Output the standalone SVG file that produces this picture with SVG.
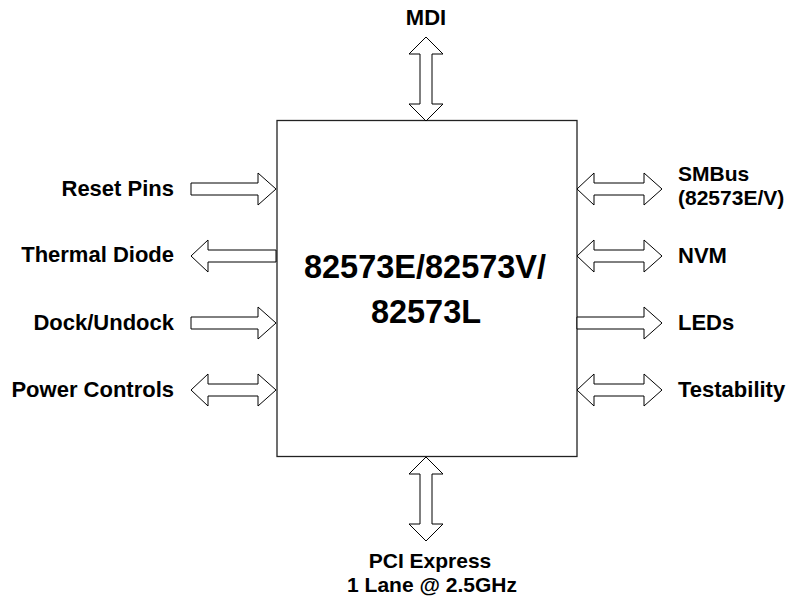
<svg xmlns="http://www.w3.org/2000/svg" width="793" height="600" viewBox="0 0 793 600">
<style>
.lbl{font-family:"Liberation Sans",Arial,sans-serif;font-weight:bold;font-size:22px;fill:#000}
.two{font-size:21px}
.main{font-family:"Liberation Sans",Arial,sans-serif;font-weight:bold;font-size:32.5px;fill:#000}
.arr{fill:#fff;stroke:#000;stroke-width:1;stroke-linejoin:miter}
</style>
<rect width="793" height="600" fill="#fff"/>
<g id="chip">
<rect x="277" y="120.5" width="300" height="336" fill="#fff" stroke="#222" stroke-width="1.3"/>
<text class="main" x="425" y="278" text-anchor="middle">82573E/82573V/</text>
<text class="main" x="426" y="323" text-anchor="middle">82573L</text>
</g>
<g id="connectors">
<polygon class="arr" points="426,37 443,54 432,54 432,104 443,104 426,121 409,104 420,104 420,54 409,54"/>
<polygon class="arr" points="426,457 443,474 432,474 432,524 443,524 426,541 409,524 420,524 420,474 409,474"/>
<polygon class="arr" points="191,183 258,183 258,173 276,189 258,205 258,195 191,195"/>
<polygon class="arr" points="191,256 208,240 208,250 276,250 276,262 208,262 208,272"/>
<polygon class="arr" points="191,317 258,317 258,307 276,323 258,339 258,329 191,329"/>
<polygon class="arr" points="191,390 208,374 208,384 258,384 258,374 276,390 258,406 258,396 208,396 208,406"/>
<polygon class="arr" points="577,189 594,173 594,183 644,183 644,173 662,189 644,205 644,195 594,195 594,205"/>
<polygon class="arr" points="577,256 594,240 594,250 644,250 644,240 662,256 644,272 644,262 594,262 594,272"/>
<polygon class="arr" points="577,317 644,317 644,307 662,323 644,339 644,329 577,329"/>
<polygon class="arr" points="577,390 594,374 594,384 644,384 644,374 662,390 644,406 644,396 594,396 594,406"/>
</g>
<g id="mdi"><text class="lbl" x="426" y="25" text-anchor="middle">MDI</text></g>
<g id="pcie">
<text class="lbl two" x="430" y="568" text-anchor="middle">PCI Express</text>
<text class="lbl two" x="432" y="592" text-anchor="middle">1 Lane @ 2.5GHz</text>
</g>
<g id="reset"><text class="lbl" x="174" y="196" text-anchor="end">Reset Pins</text></g>
<g id="thermal"><text class="lbl" x="174" y="262" text-anchor="end">Thermal Diode</text></g>
<g id="dock"><text class="lbl" x="174" y="330" text-anchor="end">Dock/Undock</text></g>
<g id="power"><text class="lbl" x="174" y="397" text-anchor="end">Power Controls</text></g>
<g id="smbus">
<text class="lbl two" x="678" y="181">SMBus</text>
<text class="lbl two" x="678" y="205">(82573E/V)</text>
</g>
<g id="nvm"><text class="lbl" x="678" y="263">NVM</text></g>
<g id="leds"><text class="lbl" x="678" y="330">LEDs</text></g>
<g id="test"><text class="lbl" x="678" y="397">Testability</text></g>
</svg>
